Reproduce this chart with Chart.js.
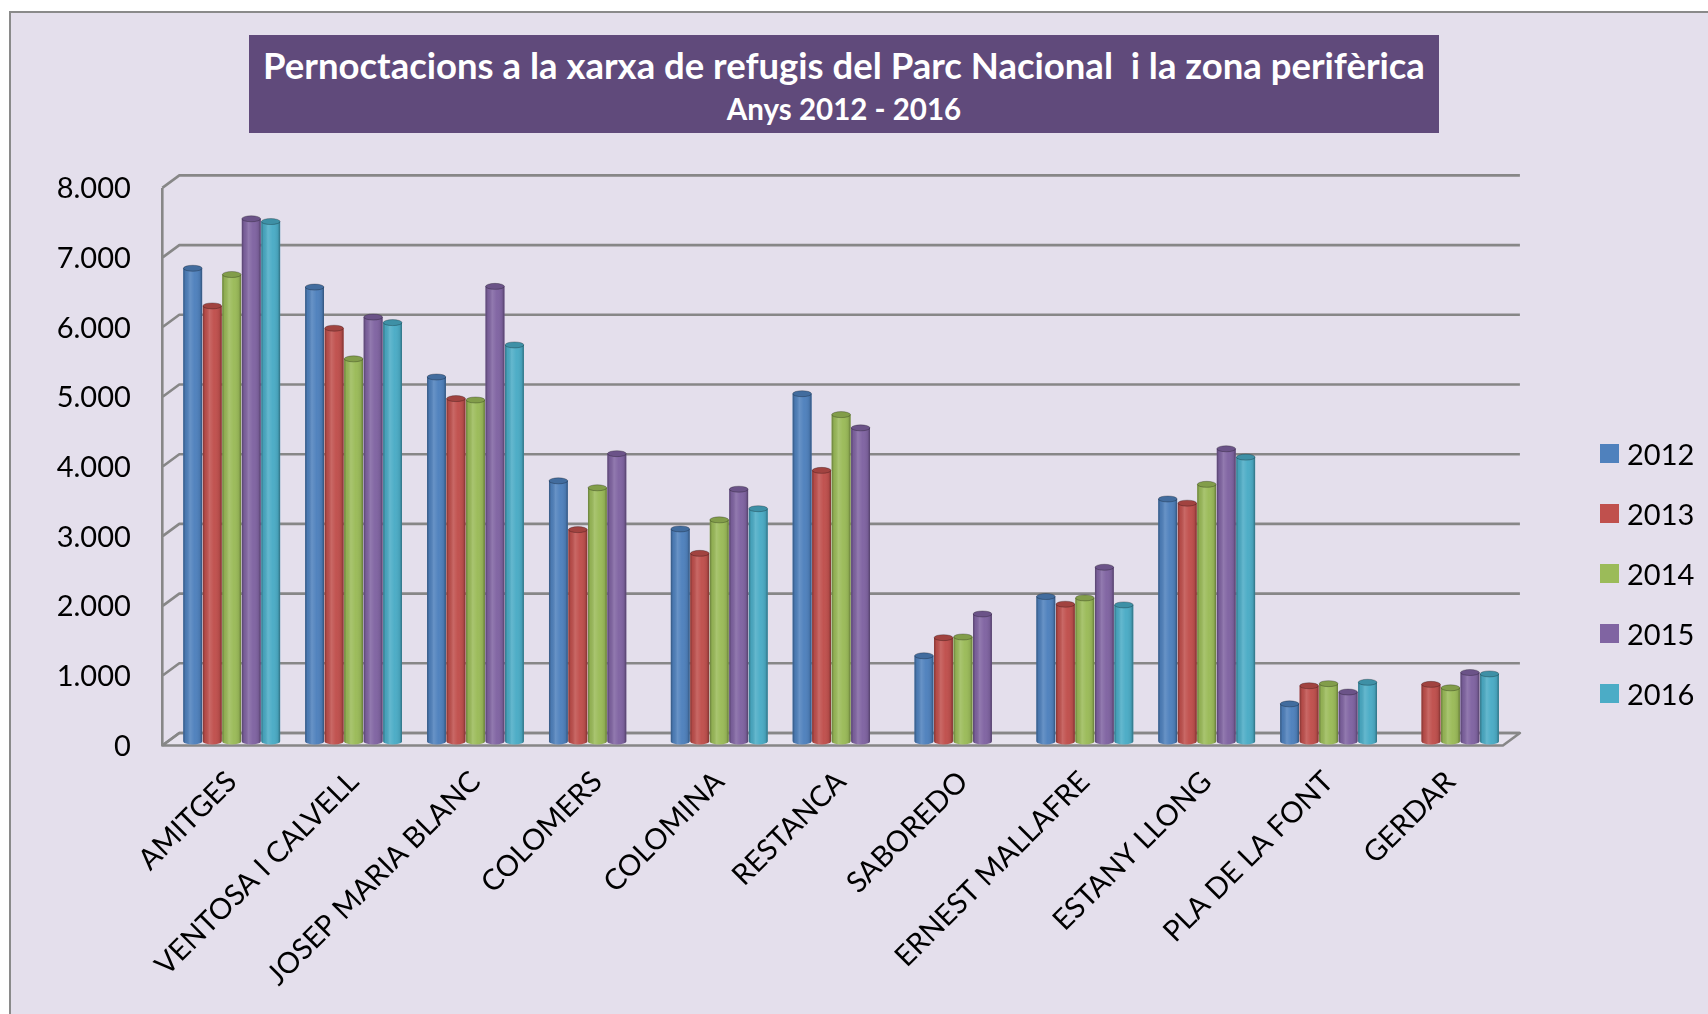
<!DOCTYPE html>
<html lang="ca">
<head>
<meta charset="utf-8">
<title>Pernoctacions a la xarxa de refugis</title>
<script src="https://cdn.jsdelivr.net/npm/chart.js@4.4.1/dist/chart.umd.min.js"></script>
<style>
  html, body {
    margin: 0;
    padding: 0;
    width: 1708px;
    height: 1014px;
    overflow: hidden;
    background: #ffffff;
    font-family: Lato, 'Open Sans', sans-serif;
  }
  #frame {
    position: absolute;
    left: 9px;
    top: 11px;
    width: 1720px;
    height: 1020px;
    background: #E4DFEC;
    border-left: 2px solid #8a8a8a;
    border-top: 2px solid #8a8a8a;
  }
  #chart {
    position: absolute;
    left: 0;
    top: 0;
  }
  #title-box {
    position: absolute;
    left: 249px;
    top: 35px;
    width: 1190px;
    height: 98px;
    background: #604A7B;
    color: #ffffff;
    font-weight: bold;
    text-align: center;
  }
  #title-box .main {
    position: absolute;
    left: 0;
    right: 0;
    top: 11px;
    font-size: 36.5px;
    line-height: 38px;
    white-space: nowrap;
  }
  #title-box .sub {
    position: absolute;
    left: 0;
    right: 0;
    top: 59px;
    font-size: 29.5px;
    line-height: 30px;
  }
  #legend {
    position: absolute;
    left: 1600px;
    top: 423px;
  }
  #legend .item {
    display: flex;
    align-items: center;
    height: 60px;
    font-size: 29px;
    color: #000000;
  }
  #legend .swatch {
    width: 19px;
    height: 19px;
    margin-right: 8px;
  }
</style>
</head>
<body>
<div id="frame"></div>
<canvas id="chart" width="1708" height="1014"></canvas>
<div id="title-box">
  <div class="main">Pernoctacions a la xarxa de refugis del Parc Nacional&nbsp; i la zona perifèrica</div>
  <div class="sub">Anys 2012 - 2016</div>
</div>
<div id="legend"></div>
<script>
// refugis (x axis)
const refugis = [
    'AMITGES', 'VENTOSA I CALVELL', 'JOSEP MARIA BLANC', 'COLOMERS', 'COLOMINA',
    'RESTANCA', 'SABOREDO', 'ERNEST MALLAFRE', 'ESTANY LLONG', 'PLA DE LA FONT', 'GERDAR'
];
const anys = ['2012', '2013', '2014', '2015', '2016'];

// pernoctacions per any (null = sense dades)
const pern2012 = [6790, 6520, 5230, 3740, 3050, 4990, 1230, 2080, 3480, 540, null];
const pern2013 = [6250, 5930, 4920, 3040, 2700, 3890, 1490, 1970, 3420, 800, 820];
const pern2014 = [6700, 5490, 4900, 3640, 3180, 4690, 1500, 2060, 3690, 830, 770];
const pern2015 = [7500, 6090, 6530, 4130, 3620, 4500, 1830, 2500, 4200, 710, 990];
const pern2016 = [7460, 6010, 5690, null, 3340, null, null, 1960, 4080, 850, 970];

const colors = ['#4F81BD', '#C0504D', '#9BBB59', '#8064A2', '#4BACC6'];

// y axis: 0 .. 8.000 every 1.000
const yMax = 8000;
const yStep = 1000;

const labelFont = { family: 'Lato', size: 29 };

// depth of the fake 3D wall and floor
const depth = { dx: 8.5, front: 4, back: -8.5 };

const milers = v => String(v).replace(/\B(?=(\d{3})+(?!\d))/g, '.');

// back wall gridlines, left wall edge and floor
const wallAndFloor = {
    id: 'wallAndFloor',
    beforeDatasetsDraw(chart) {
        const { ctx, chartArea: area, scales: { y } } = chart;
        const fx = area.left - depth.dx;
        const bx = area.left + depth.dx;
        const rightBack = area.right + depth.dx;
        const rightFront = area.right - depth.dx;
        const y0 = y.getPixelForValue(0);
        const yTop = y.getPixelForValue(yMax);

        ctx.save();
        ctx.lineJoin = 'round';

        // floor
        ctx.beginPath();
        ctx.moveTo(fx, y0 + depth.front);
        ctx.lineTo(rightFront, y0 + depth.front);
        ctx.lineTo(rightBack, y0 + depth.back);
        ctx.lineTo(bx, y0 + depth.back);
        ctx.closePath();
        ctx.fillStyle = '#E7E3EE';
        ctx.fill();
        ctx.strokeStyle = '#878787';
        ctx.lineWidth = 2.6;
        ctx.stroke();

        // gridlines on the back wall with the short slanted piece on the side wall
        ctx.beginPath();
        y.ticks.forEach(t => {
            const py = y.getPixelForValue(t.value);
            ctx.moveTo(fx, py + depth.front);
            ctx.lineTo(bx, py + depth.back);
            ctx.lineTo(rightBack, py + depth.back);
        });
        // front edge of the side wall
        ctx.moveTo(fx, yTop + depth.front);
        ctx.lineTo(fx, y0 + depth.front);
        ctx.stroke();
        ctx.restore();
    }
};

// repaint each bar as a shaded cylinder
const cylinders = {
    id: 'cylinders',
    afterDatasetsDraw(chart) {
        const { ctx } = chart;
        chart.data.datasets.forEach((ds, i) => {
            const meta = chart.getDatasetMeta(i);
            meta.data.forEach((bar, j) => {
                if (ds.data[j] == null) return;
                const { x, y, base, width } = bar.getProps(['x', 'y', 'base', 'width'], true);
                const l = x - width / 2;
                const r = x + width / 2;
                const rx = width / 2;
                const ry = 3;

                ctx.save();
                ctx.beginPath();
                ctx.moveTo(l, y);
                ctx.lineTo(l, base);
                ctx.ellipse(x, base, rx, ry, 0, Math.PI, 0, true);
                ctx.lineTo(r, y);
                ctx.closePath();
                ctx.fillStyle = ds.backgroundColor;
                ctx.fill();

                const g = ctx.createLinearGradient(l, 0, r, 0);
                g.addColorStop(0, 'rgba(0,0,0,0.32)');
                g.addColorStop(0.12, 'rgba(0,0,0,0.06)');
                g.addColorStop(0.35, 'rgba(255,255,255,0.14)');
                g.addColorStop(0.6, 'rgba(255,255,255,0.02)');
                g.addColorStop(0.88, 'rgba(0,0,0,0.08)');
                g.addColorStop(1, 'rgba(0,0,0,0.35)');
                ctx.fillStyle = g;
                ctx.fill();

                // top cap
                ctx.beginPath();
                ctx.ellipse(x, y, rx, ry, 0, 0, Math.PI * 2);
                ctx.fillStyle = ds.backgroundColor;
                ctx.fill();
                ctx.fillStyle = 'rgba(0,0,0,0.16)';
                ctx.fill();
                ctx.strokeStyle = 'rgba(0,0,0,0.32)';
                ctx.lineWidth = 0.8;
                ctx.stroke();
                ctx.restore();
            });
        });
    }
};

const series = [pern2012, pern2013, pern2014, pern2015, pern2016];

const chart = new Chart(document.getElementById('chart'), {
    type: 'bar',
    data: {
        labels: refugis,
        datasets: series.map((data, i) => ({
            label: anys[i],
            data: data,
            backgroundColor: colors[i],
            borderWidth: 0,
            categoryPercentage: 0.8,
            barPercentage: 0.96
        }))
    },
    options: {
        responsive: false,
        animation: false,
        layout: {
            padding: { top: 183.9, right: 196.6, bottom: 0, left: 0 }
        },
        plugins: {
            legend: { display: false },
            tooltip: { enabled: false }
        },
        scales: {
            x: {
                grid: { display: false, drawTicks: false },
                border: { display: false },
                ticks: {
                    autoSkip: false,
                    minRotation: 45,
                    maxRotation: 45,
                    padding: 23,
                    color: '#000000',
                    font: labelFont
                },
                afterFit: s => { s.height = 272.5; }
            },
            y: {
                min: 0,
                max: yMax,
                grid: { display: false, drawTicks: false },
                border: { display: false },
                ticks: {
                    stepSize: yStep,
                    padding: 40,
                    labelOffset: 5,
                    color: '#000000',
                    font: labelFont,
                    callback: v => milers(v)
                },
                afterFit: s => { s.width = 170.8; }
            }
        }
    },
    plugins: [wallAndFloor, cylinders]
});

// legend on the right, one row per year
const legendEl = document.getElementById('legend');
chart.options.plugins.legend.labels.generateLabels(chart).forEach(item => {
    const row = document.createElement('div');
    row.className = 'item';
    const sw = document.createElement('span');
    sw.className = 'swatch';
    sw.style.background = item.fillStyle;
    const txt = document.createElement('span');
    txt.textContent = item.text;
    row.appendChild(sw);
    row.appendChild(txt);
    legendEl.appendChild(row);
});
</script>
</body>
</html>
